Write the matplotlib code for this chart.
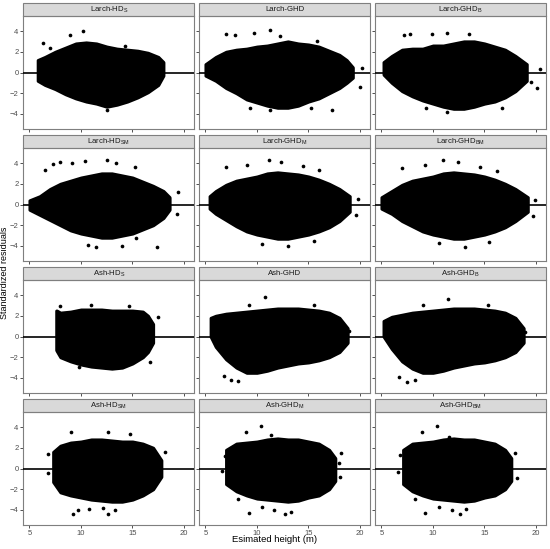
import numpy as np
import matplotlib
matplotlib.use("Agg")
import matplotlib.pyplot as plt
from matplotlib.patches import Rectangle

plt.rcParams["font.family"] = ["Liberation Sans", "DejaVu Sans"]
plt.rcParams["mathtext.fontset"] = "custom"
plt.rcParams["mathtext.rm"] = "Liberation Sans"

# panel titles (row-major)
titles = [
    r"Larch-HD$_\mathregular{S}$", "Larch-GHD", r"Larch-GHD$_\mathregular{B}$",
    r"Larch-HD$_\mathregular{SM}$", r"Larch-GHD$_\mathregular{M}$", r"Larch-GHD$_\mathregular{BM}$",
    r"Ash-HD$_\mathregular{S}$", "Ash-GHD", r"Ash-GHD$_\mathregular{B}$",
    r"Ash-HD$_\mathregular{SM}$", r"Ash-GHD$_\mathregular{M}$", r"Ash-GHD$_\mathregular{BM}$",
]

# envelope of the dense residual cloud:
# estimated height, upper residual, lower residual
larch_hds_h = [5.8, 6.5, 7.5, 8.5, 9.5, 10.5, 11.5, 12.5, 13.5, 14.5, 15.5, 16.5, 17.5, 18.0]
larch_hds_up = [1.2, 1.5, 2.0, 2.4, 2.8, 2.9, 2.8, 2.5, 2.3, 2.2, 2.1, 1.9, 1.5, 1.0]
larch_hds_lo = [-0.8, -1.2, -1.6, -2.1, -2.5, -2.8, -3.0, -3.3, -3.1, -2.8, -2.4, -1.9, -1.2, -0.3]

larch_ghd_h = [5.0, 6, 7, 8, 9, 10, 11, 12, 13, 14, 15, 16, 17, 18, 18.7, 19.3]
larch_ghd_up = [0.8, 1.5, 2.0, 2.2, 2.3, 2.5, 2.6, 2.8, 3.0, 2.8, 2.7, 2.5, 2.1, 1.7, 1.2, 0.5]
larch_ghd_lo = [-0.3, -0.8, -1.5, -2.0, -2.6, -2.9, -3.2, -3.4, -3.4, -3.2, -2.8, -2.5, -2.0, -1.5, -1.0, -0.5]

larch_ghdb_h = [5.2, 6, 7, 8, 9, 10, 11, 12, 13, 14, 15, 16, 17, 18, 19.1]
larch_ghdb_up = [1.0, 1.6, 2.2, 2.3, 2.3, 2.6, 2.6, 2.8, 3.0, 3.0, 2.8, 2.5, 2.2, 1.6, 0.8]
larch_ghdb_lo = [-0.2, -1.0, -1.8, -2.3, -2.7, -3.0, -3.3, -3.5, -3.5, -3.3, -3.0, -2.8, -2.4, -1.8, -0.8]

larch_hdsm_h = [5.0, 6, 7, 8, 9, 10, 11, 12, 13, 14, 15, 16, 17, 18, 18.6]
larch_hdsm_up = [0.4, 0.8, 1.5, 2.0, 2.3, 2.6, 2.8, 3.0, 3.0, 2.8, 2.6, 2.2, 1.8, 1.3, 0.7]
larch_hdsm_lo = [-0.5, -1.0, -1.5, -2.0, -2.5, -2.8, -3.0, -3.2, -3.2, -3.0, -2.8, -2.4, -2.0, -1.3, -0.5]

larch_ghdm_h = [5.4, 6, 7, 8, 9, 10, 11, 12, 13, 14, 15, 16, 17, 18, 19.0]
larch_ghdm_up = [0.8, 1.3, 1.9, 2.3, 2.5, 2.7, 3.0, 3.1, 3.0, 2.9, 2.7, 2.4, 2.0, 1.5, 0.8]
larch_ghdm_lo = [-0.4, -0.9, -1.5, -2.1, -2.6, -2.9, -3.1, -3.3, -3.3, -3.1, -2.9, -2.6, -2.2, -1.6, -0.7]

larch_ghdbm_h = [5.0, 6, 7, 8, 9, 10, 11, 12, 13, 14, 15, 16, 17, 18, 19.2]
larch_ghdbm_up = [0.7, 1.3, 1.9, 2.3, 2.5, 2.7, 3.0, 3.1, 3.0, 2.9, 2.7, 2.4, 2.0, 1.5, 0.7]
larch_ghdbm_lo = [-0.4, -0.9, -1.6, -2.1, -2.6, -2.9, -3.1, -3.3, -3.3, -3.1, -2.9, -2.6, -2.2, -1.6, -0.7]

ash_hds_h = [7.6, 7.65, 8, 9, 10, 11, 12, 13, 14, 15, 16, 16.5, 17.0]
ash_hds_up = [2.5, 2.5, 2.3, 2.4, 2.6, 2.6, 2.6, 2.5, 2.5, 2.5, 2.4, 2.0, 1.2]
ash_hds_lo = [-1.3, -1.4, -2.0, -2.4, -2.7, -2.9, -3.0, -3.1, -3.0, -2.6, -2.0, -1.5, -0.6]

ash_ghd_h = [5.5, 6, 7, 8, 9, 10, 11, 12, 13, 14, 15, 16, 17, 18, 18.8]
ash_ghd_up = [1.8, 2.0, 2.2, 2.3, 2.4, 2.5, 2.6, 2.7, 2.7, 2.7, 2.6, 2.5, 2.3, 1.8, 0.8]
ash_ghd_lo = [0.0, -1.0, -2.2, -3.0, -3.5, -3.5, -3.3, -3.0, -2.8, -2.6, -2.5, -2.3, -2.0, -1.5, -0.6]

ash_ghdb_h = [5.2, 6, 7, 8, 9, 10, 11, 12, 13, 14, 15, 16, 17, 18, 18.8]
ash_ghdb_up = [1.5, 1.9, 2.1, 2.3, 2.4, 2.5, 2.6, 2.7, 2.7, 2.7, 2.6, 2.5, 2.3, 1.8, 0.8]
ash_ghdb_lo = [0.0, -1.2, -2.4, -3.1, -3.5, -3.5, -3.3, -3.0, -2.8, -2.6, -2.5, -2.3, -2.0, -1.5, -0.6]

ash_hdsm_h = [7.3, 8, 9, 10, 11, 12, 13, 14, 15, 16, 17, 17.8]
ash_hdsm_up = [1.6, 2.2, 2.5, 2.6, 2.8, 2.8, 2.7, 2.6, 2.6, 2.4, 2.0, 0.8]
ash_hdsm_lo = [-1.3, -2.3, -2.6, -2.8, -3.0, -3.1, -3.2, -3.2, -3.0, -2.6, -2.0, -0.8]

ash_ghdm_h = [7.0, 8, 9, 10, 11, 12, 13, 14, 15, 16, 17, 17.6]
ash_ghdm_up = [1.8, 2.4, 2.5, 2.6, 2.8, 2.9, 2.8, 2.8, 2.6, 2.4, 1.8, 1.0]
ash_ghdm_lo = [-1.5, -2.2, -2.6, -2.9, -3.0, -3.1, -3.2, -3.1, -2.8, -2.6, -2.0, -1.2]

ash_ghdbm_h = [7.1, 8, 9, 10, 11, 12, 13, 14, 15, 16, 17, 17.6]
ash_ghdbm_up = [1.8, 2.4, 2.5, 2.6, 2.8, 2.9, 2.8, 2.8, 2.6, 2.4, 1.8, 1.0]
ash_ghdbm_lo = [-1.5, -2.2, -2.6, -2.9, -3.0, -3.1, -3.2, -3.1, -2.8, -2.6, -2.0, -1.2]

# scattered points outside the dense cloud (height, residual)
larch_hds_out = [(8.9, 3.6), (10.2, 4.0), (6.3, 2.8), (14.3, 2.6), (12.5, -3.6), (7.0, 2.4)]
larch_ghd_out = [(7.0, 3.7), (7.9, 3.6), (9.7, 3.8), (11.3, 4.1), (12.2, 3.5), (15.8, 3.0),
                 (17.3, -3.6), (11.3, -3.6), (9.3, -3.4), (15.2, -3.4), (20.2, 0.4), (20.0, -1.4)]
larch_ghdb_out = [(7.2, 3.6), (7.8, 3.7), (9.9, 3.7), (11.4, 3.8), (13.5, 3.7), (11.4, -3.8),
                  (9.3, -3.4), (16.7, -3.4), (20.4, 0.3), (20.1, -1.5), (19.5, -0.9)]
larch_hdsm_out = [(6.5, 3.3), (7.25, 3.9), (8.0, 4.1), (9.1, 4.0), (10.4, 4.2), (12.5, 4.3),
                  (13.4, 4.0), (15.2, 3.6), (10.7, -3.9), (11.5, -4.1), (14.0, -4.0),
                  (17.35, -4.1), (15.3, -3.2), (19.3, -0.9), (19.4, 1.2)]
larch_ghdm_out = [(7.0, 3.6), (9.0, 3.8), (11.2, 4.3), (12.3, 4.1), (14.5, 3.7), (16.0, 3.3),
                  (10.5, -3.8), (13.0, -4.0), (15.5, -3.5), (19.8, 0.5), (19.6, -1.0)]
larch_ghdbm_out = [(7.0, 3.5), (9.2, 3.8), (11.0, 4.3), (12.4, 4.1), (14.6, 3.6), (16.2, 3.2),
                   (10.6, -3.7), (13.1, -4.1), (15.4, -3.6), (19.9, 0.4), (19.7, -1.1)]
ash_hds_out = [(9.8, -2.9), (8.0, 2.9), (11.0, 3.0), (14.7, 2.9), (16.7, -2.5), (17.45, 1.85)]
ash_ghd_out = [(6.8, -3.8), (7.5, -4.2), (8.2, -4.3), (10.8, 3.8), (9.2, 3.0), (15.5, 3.0), (18.9, 0.5)]
ash_ghdb_out = [(6.7, -3.9), (7.5, -4.4), (8.3, -4.2), (11.5, 3.6), (9.0, 3.0), (15.3, 3.0), (18.9, 0.4)]
ash_hdsm_out = [(6.8, 1.4), (6.8, -0.4), (9.0, 3.5), (12.6, 3.5), (14.8, 3.3), (9.25, -4.4),
                (9.7, -4.0), (12.6, -4.4), (10.8, -3.9), (13.3, -4.0), (12.1, -3.8), (18.2, 1.6)]
ash_ghdm_out = [(10.4, 4.1), (8.9, 3.5), (11.4, 3.2), (9.2, -4.3), (12.75, -4.4), (13.3, -4.2),
                (10.5, -3.7), (11.7, -4.0), (8.2, -2.9), (18.2, 1.5), (18.1, -0.8), (18.0, 0.5),
                (6.6, -0.2), (6.9, 1.2)]
ash_ghdbm_out = [(10.4, 4.1), (8.9, 3.5), (11.6, 3.0), (9.2, -4.3), (12.6, -4.4), (13.2, -3.9),
                 (10.6, -3.7), (11.8, -4.0), (8.3, -2.9), (18.2, -0.9), (18.0, 1.5), (6.6, -0.3),
                 (6.8, 1.3)]

clouds = [
    (larch_hds_h, larch_hds_up, larch_hds_lo, larch_hds_out),
    (larch_ghd_h, larch_ghd_up, larch_ghd_lo, larch_ghd_out),
    (larch_ghdb_h, larch_ghdb_up, larch_ghdb_lo, larch_ghdb_out),
    (larch_hdsm_h, larch_hdsm_up, larch_hdsm_lo, larch_hdsm_out),
    (larch_ghdm_h, larch_ghdm_up, larch_ghdm_lo, larch_ghdm_out),
    (larch_ghdbm_h, larch_ghdbm_up, larch_ghdbm_lo, larch_ghdbm_out),
    (ash_hds_h, ash_hds_up, ash_hds_lo, ash_hds_out),
    (ash_ghd_h, ash_ghd_up, ash_ghd_lo, ash_ghd_out),
    (ash_ghdb_h, ash_ghdb_up, ash_ghdb_lo, ash_ghdb_out),
    (ash_hdsm_h, ash_hdsm_up, ash_hdsm_lo, ash_hdsm_out),
    (ash_ghdm_h, ash_ghdm_up, ash_ghdm_lo, ash_ghdm_out),
    (ash_ghdbm_h, ash_ghdbm_up, ash_ghdbm_lo, ash_ghdbm_out),
]

x_ticks = [5, 10, 15, 20]
y_ticks = [-4, -2, 0, 2, 4]

W, H = 550, 549
fig = plt.figure(figsize=(W / 100, H / 100), dpi=100)

col_left = [23.3, 199.3, 375.3]
row_top = [16, 148, 280, 412]
pw, ph, strip_h = 171, 113, 13
frame_col = "#7F7F7F"
tick_col = "#4D4D4D"

for i, (title, (hx, up, lo, outs)) in enumerate(zip(titles, clouds)):
    r, c = divmod(i, 3)
    ax = fig.add_axes([col_left[c] / W, 1 - (row_top[r] + ph) / H, pw / W, ph / H])
    ax.set_xlim(4.4, 21.0)
    ax.set_ylim(-5.45, 5.45)

    ax.fill_between(hx, up, lo, color="black", lw=2.2, edgecolor="black",
                    joinstyle="round", zorder=2)
    ox, oy = zip(*outs)
    ax.scatter(ox, oy, s=7, color="black", lw=0, zorder=3)
    ax.axhline(0, color="black", lw=1.2, zorder=4)

    ax.set_xticks(x_ticks)
    ax.set_yticks(y_ticks)
    ax.tick_params(length=2, width=0.6, color="#333333", labelsize=5.5,
                   labelcolor=tick_col, pad=1.5)
    if c != 0:
        ax.tick_params(labelleft=False)
    if r != 3:
        ax.tick_params(labelbottom=False)
    for s in ax.spines.values():
        s.set_color(frame_col)
        s.set_linewidth(0.8)

    # facet strip
    sh = strip_h / ph
    ax.add_patch(Rectangle((0, 1), 1, sh, transform=ax.transAxes, clip_on=False,
                           facecolor="#D9D9D9", edgecolor=frame_col, lw=0.8))
    ax.text(0.5, 1 + sh / 2, title, transform=ax.transAxes, ha="center",
            va="center", fontsize=5.6, color="#1A1A1A")

fig.text(0.5, 1 - 540 / H, "Esimated height (m)", ha="center", va="center",
         fontsize=6.8, color="black")
fig.text(4.5 / W, 0.5 + 2 / H, "Standardized residuals", rotation=90, ha="center",
         va="center", fontsize=6.5, color="black")

fig.savefig("out.png", dpi=100, facecolor="white")
